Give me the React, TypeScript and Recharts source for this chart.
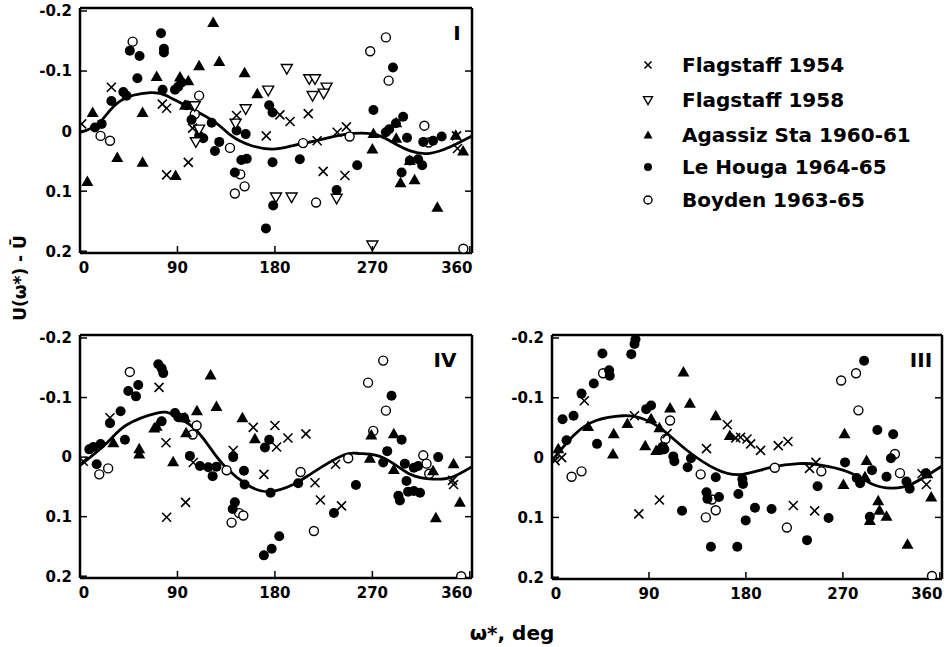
import React from 'react';
import { ComposedChart, Scatter, Line, XAxis, YAxis } from 'recharts';

type Pt = [number, number];

const xTicks = [0, 90, 180, 270, 360];
const yTicks = [-0.2, -0.1, 0, 0.1, 0.2];
const xInner = [90, 180, 270];
const yInner = [-0.1, 0, 0.1];

const seriesNames = ['Flagstaff 1954', 'Flagstaff 1958', 'Agassiz Sta 1960-61', 'Le Houga 1964-65', 'Boyden 1963-65'];

// panel I
const p1Flag54: Pt[] = [[1.5,-0.012],[29,-0.073],[76,-0.045],[80,-0.038],[100,0.052],[80,0.073],[104,-0.005],[144.6,-0.026],[172,0.008],[184.6,-0.027],[194,-0.016],[210.8,-0.029],[219,0.016],[224.6,0.067],[244.6,0.074],[237.5,0.002],[246,-0.007],[347.7,0.008],[348.6,0.029]];
const p1Flag58: Pt[] = [[106,-0.042],[110,-0.003],[107,0.018],[143.7,-0.013],[153,-0.037],[173.8,-0.068],[191,-0.104],[211.7,-0.087],[217,-0.087],[227.7,-0.073],[214.8,-0.059],[225,-0.063],[181,0.11],[195.4,0.11],[237,0.112],[270,0.19]];
const p1Agassiz: Pt[] = [[11.7,-0.031],[6.8,0.084],[34.4,0.044],[57.8,-0.031],[57.8,0.052],[70.8,-0.091],[88.3,0.074],[92.3,-0.09],[100,-0.084],[97,-0.043],[110,-0.109],[123,-0.181],[128.6,-0.116],[152,-0.097],[163.7,-0.062],[271,0.004],[270,0.03],[292,-0.014],[292,0.012],[296,0.086],[309,0.081],[304.6,0.049],[330,0.127],[347,0.007],[353.8,0.033]];
const p1Houga: Pt[] = [[13.8,-0.006],[20,-0.012],[29,-0.05],[40,-0.065],[43,-0.059],[46,-0.134],[55,-0.125],[53,-0.088],[74.8,-0.163],[77.5,-0.137],[77.5,-0.131],[76.3,-0.069],[87.7,-0.069],[90.7,-0.074],[93.8,-0.081],[98.5,-0.043],[103,-0.019],[110,0.008],[113.8,0.012],[121.6,-0.014],[128.6,0.018],[124.6,0.033],[144.6,-0.001],[153,0.005],[149,0.048],[154,0.046],[143,0.069],[174.7,-0.043],[177.8,-0.031],[177.8,0.052],[203,0.047],[178.4,0.124],[171.7,0.162],[237,0.098],[256,0.057],[271,-0.035],[289,-0.106],[282.5,0.002],[285.5,-0.003],[291.7,-0.013],[298.4,-0.024],[302,0.011],[304.6,0.049],[312.3,0.047],[316,0.057],[297,0.069],[317,0.018],[326,0.016],[334,0.009]];
const p1Boyden: Pt[] = [[48.6,-0.149],[19,0.008],[27.7,0.016],[110,-0.059],[106,-0.028],[138.5,0.028],[143,0.104],[148,0.072],[152,0.092],[206,0.02],[218,0.119],[249,0.009],[268,-0.133],[282.5,-0.156],[285,-0.084],[318,-0.009],[322,0.019],[354,0.196]];
const p1Curve: Pt[] = [[0,0.002],[18,-0.014],[37,-0.05],[65,-0.064],[80,-0.059],[98,-0.042],[123,-0.017],[140,0.008],[158,0.024],[178,0.03],[197,0.024],[218,0.016],[246,0.005],[271,0.005],[286,0.016],[305,0.033],[323,0.037],[341,0.027],[362,0.008]];

// panel IV
const p4Flag54: Pt[] = [[3,0.007],[27.7,-0.066],[73,-0.117],[79.4,-0.024],[80,0.101],[97.5,0.076],[104.6,0.009],[141.5,-0.011],[160,-0.05],[169.8,0.029],[180,-0.053],[181.5,-0.017],[192,-0.032],[208.6,-0.039],[217,0.043],[222,0.072],[241.5,0.082],[236,0.012],[344,0.039],[345,0.046]];
const p4Agassiz: Pt[] = [[30.8,-0.024],[54.7,-0.014],[54.7,-0.005],[68.6,-0.049],[70.8,-0.052],[86,0.008],[97,-0.066],[98,-0.041],[108,-0.078],[120.6,-0.138],[126,-0.085],[150,-0.066],[161.5,-0.031],[269,-0.037],[267.7,0.002],[289.8,-0.039],[289.8,0.021],[326,0.023],[328.6,0.102],[345,0.011],[350.8,0.076]];
const p4Houga: Pt[] = [[8.6,-0.013],[12.3,-0.017],[19,-0.022],[15.4,0.012],[27.7,-0.057],[37.5,-0.077],[41.5,-0.029],[44.6,-0.111],[51.7,-0.102],[53.8,-0.121],[72.3,-0.156],[75.4,-0.149],[76.9,-0.141],[75.4,-0.06],[87.7,-0.074],[90.7,-0.067],[96,-0.066],[101.5,-0.002],[110.8,0.015],[118.5,0.017],[122.5,0.032],[126,0.016],[141.5,0],[141,0.087],[143,0.076],[151.4,0.023],[152,0.046],[170.8,-0.016],[174.7,-0.029],[176,0.06],[169.8,0.165],[177,0.154],[184,0.133],[201.5,0.044],[254.8,0.047],[234.5,0.094],[287.7,-0.103],[283.7,-0.01],[280,0.009],[297,-0.029],[300,0.011],[301.5,0.04],[294,0.065],[295.4,0.073],[303,0.058],[308.3,0.057],[314,0.06],[308.3,0.018],[312.3,0.015],[330.8,0]];
const p4Boyden: Pt[] = [[17.8,0.029],[26,0.019],[46,-0.143],[107.7,-0.053],[104,-0.038],[135.4,0.022],[140,0.11],[147,0.094],[150.8,0.098],[203.7,0.025],[216,0.124],[247.7,0.002],[266,-0.125],[280,-0.162],[282.5,-0.078],[270.8,-0.044],[317,-0.003],[320,0.011],[322.5,0.028],[352,0.2]];
const p4Curve: Pt[] = [[0,0.014],[25,-0.024],[43,-0.054],[71,-0.074],[86,-0.071],[105,-0.049],[120,-0.016],[135,0.018],[154,0.046],[174,0.058],[197,0.046],[215,0.026],[243,-0.003],[258,-0.006],[280,0.001],[305,0.029],[326,0.037],[343,0.034],[362,0.016]];

// panel III
const p3Flag54: Pt[] = [[2.8,0.005],[9,0],[30,-0.095],[76.6,-0.07],[80.6,0.094],[99.7,0.071],[106.8,-0.04],[143.4,-0.015],[162.8,-0.055],[170.5,-0.033],[175,-0.034],[181,-0.031],[184.4,-0.023],[193.6,-0.012],[210,-0.02],[219,-0.027],[224,0.08],[243.8,0.089],[239,0.018],[245,0.008],[347.5,0.045],[343.5,0.027]];
const p3Agassiz: Pt[] = [[5.8,-0.015],[33.5,-0.052],[56.6,-0.006],[57.3,-0.04],[70,-0.057],[86.5,-0.02],[92,-0.065],[96.7,-0.012],[99,-0.013],[99.7,-0.05],[109.6,-0.083],[122,-0.143],[128,-0.091],[152,-0.07],[165,-0.037],[271.5,-0.04],[270.5,0.045],[292,0.005],[290.5,0.032],[302.8,0.072],[295,0.105],[304,0.088],[310.5,0.098],[330,0.145],[348.4,0.027],[352,0.066]];
const p3Houga: Pt[] = [[9.8,-0.064],[20,-0.07],[13.5,-0.029],[27.4,-0.107],[38.8,-0.124],[41.8,-0.023],[46.8,-0.174],[53,-0.146],[53.6,-0.137],[73.6,-0.173],[76.6,-0.19],[77.5,-0.198],[87.4,-0.081],[92,-0.087],[102.8,-0.018],[104.3,-0.014],[112.6,-0.002],[113.6,0.006],[125.9,0.016],[129,0.001],[120.7,0.089],[143.4,0.058],[144.3,0.069],[147.5,0.149],[152,0.033],[155,0.066],[172,0.149],[173,0.061],[176.7,0.036],[177.3,0.044],[179.8,0.105],[188.4,0.084],[203.8,0.086],[236.7,0.138],[246.5,0.048],[256.7,0.101],[272,0.008],[289.7,-0.162],[302,-0.046],[316.7,-0.039],[297,0.021],[282.8,0.034],[286,0.043],[295,0.099],[310.5,0.032],[314.6,0.001],[329,0.04],[332,0.052],[347,0.026]];
const p3Boyden: Pt[] = [[18.2,0.032],[27.4,0.023],[47.4,-0.141],[109.6,-0.062],[105.3,-0.031],[138,0.028],[142.8,0.1],[148.4,0.07],[152,0.088],[206.8,0.017],[218,0.117],[250,0.023],[268.4,-0.129],[282.2,-0.141],[284.4,-0.079],[318.3,-0.006],[323,0.026],[352.7,0.198]];
const p3Curve: Pt[] = [[0,0.005],[20,-0.037],[41,-0.062],[66,-0.07],[81,-0.067],[100,-0.05],[124,-0.014],[153,0.02],[177,0.028],[204,0.016],[229,0.01],[248,0.012],[275,0.024],[297,0.044],[315,0.051],[334,0.044],[362,0.014]];

const toXY = (pts: Pt[]) => pts.map(([x, y]) => ({ x, y }));

const FONT = '"DejaVu Sans", sans-serif';
const labelStyle = { fontFamily: FONT, fontWeight: 700, fontSize: 15, fill: '#000' };
const frame = { stroke: '#000', strokeWidth: 2.5 };

// markers
const Cross = ({ cx, cy, s = 4.5 }: any) => (
  <g stroke="#000" strokeWidth={1.6}>
    <line x1={cx - s} y1={cy - s} x2={cx + s} y2={cy + s} />
    <line x1={cx - s} y1={cy + s} x2={cx + s} y2={cy - s} />
  </g>
);
const TriDown = ({ cx, cy, s = 5.5 }: any) => (
  <polygon points={`${cx - s},${cy - s * 0.75} ${cx + s},${cy - s * 0.75} ${cx},${cy + s}`} fill="#fff" stroke="#000" strokeWidth={1.4} />
);
const TriUp = ({ cx, cy, s = 6 }: any) => (
  <polygon points={`${cx},${cy - s} ${cx + s},${cy + s * 0.75} ${cx - s},${cy + s * 0.75}`} fill="#000" />
);
const Dot = ({ cx, cy, r = 5 }: any) => <circle cx={cx} cy={cy} r={r} fill="#000" />;
const Ring = ({ cx, cy, r = 4.5 }: any) => <circle cx={cx} cy={cy} r={r} fill="#fff" stroke="#000" strokeWidth={1.4} />;

// ticks: labels outside, tick marks inward; end labels nudged inside like the original
const BottomTick = ({ x, y, payload }: any) => {
  const shift = payload.value === 360 ? -13 : payload.value === 0 ? 4 : 0;
  return (
    <g>
      <line x1={x} x2={x} y1={y - 9} y2={y - 16} stroke="#000" strokeWidth={1.5} />
      <text x={x + shift} y={y} dy="0.71em" textAnchor="middle" style={labelStyle}>{payload.value}</text>
    </g>
  );
};
const LeftTick = ({ x, y, payload }: any) => (
  <g>
    <line x1={x + 8} x2={x + 15} y1={y} y2={y} stroke="#000" strokeWidth={1.5} />
    <text x={x} y={y} dy="0.36em" textAnchor="end" style={labelStyle}>{payload.value === 0 ? '0' : String(payload.value)}</text>
  </g>
);
const TopTick = ({ x, y }: any) => <line x1={x} x2={x} y1={y} y2={y + 7} stroke="#000" strokeWidth={1.5} />;
const RightTick = ({ x, y }: any) => <line x1={x} x2={x - 7} y1={y} y2={y} stroke="#000" strokeWidth={1.5} />;

type PanelProps = {
  left: number; top: number; width: number; height: number;
  flag54: Pt[]; flag58?: Pt[]; agassiz: Pt[]; houga: Pt[]; boyden: Pt[]; curve: Pt[];
};

const Panel: React.FC<PanelProps> = ({ left, top, width, height, flag54, flag58, agassiz, houga, boyden, curve }) => (
  <div style={{ position: 'absolute', left, top }}>
    <ComposedChart width={width} height={height} margin={{ top: 3, right: 0, bottom: 0, left: 0 }}>
      <XAxis xAxisId="b" dataKey="x" type="number" domain={[0, 362]} ticks={xTicks} allowDataOverflow height={30}
        tickSize={0} tickMargin={9} tick={BottomTick} axisLine={frame} tickLine={false} />
      <XAxis xAxisId="t" orientation="top" type="number" domain={[0, 362]} ticks={xInner} allowDataOverflow height={5}
        tickSize={0} tickMargin={0} tick={TopTick} axisLine={frame} tickLine={false} />
      <YAxis yAxisId="l" dataKey="y" type="number" domain={[-0.205, 0.203]} reversed ticks={yTicks} allowDataOverflow width={80}
        tickSize={0} tickMargin={8} tick={LeftTick} axisLine={frame} tickLine={false} />
      <YAxis yAxisId="r" orientation="right" type="number" domain={[-0.205, 0.203]} reversed ticks={yInner} allowDataOverflow width={10}
        tickSize={0} tickMargin={0} tick={RightTick} axisLine={frame} tickLine={false} />
      <Line xAxisId="b" yAxisId="l" data={toXY(curve)} dataKey="y" type="natural" stroke="#000" strokeWidth={2.8} dot={false} isAnimationActive={false} />
      <Scatter xAxisId="b" yAxisId="l" data={toXY(boyden)} shape={Ring} isAnimationActive={false} />
      <Scatter xAxisId="b" yAxisId="l" data={toXY(agassiz)} shape={TriUp} isAnimationActive={false} />
      <Scatter xAxisId="b" yAxisId="l" data={toXY(houga)} shape={Dot} isAnimationActive={false} />
      {flag58 && <Scatter xAxisId="b" yAxisId="l" data={toXY(flag58)} shape={TriDown} isAnimationActive={false} />}
      <Scatter xAxisId="b" yAxisId="l" data={toXY(flag54)} shape={Cross} isAnimationActive={false} />
    </ComposedChart>
  </div>
);

const legendMarkers = [Cross, TriDown, TriUp, Dot, Ring];
const legendRows = [65, 100, 135, 167, 200];

export default function App() {
  const big = { fontFamily: FONT, fontWeight: 700, fontSize: 20, fill: '#000' };
  return (
    <div style={{ position: 'absolute', left: 0, top: 0, width: 949, height: 647, background: '#fff' }}>
      <Panel left={0} top={0} width={482} height={283}
        flag54={p1Flag54} flag58={p1Flag58} agassiz={p1Agassiz} houga={p1Houga} boyden={p1Boyden} curve={p1Curve} />
      <Panel left={0} top={327} width={482} height={281}
        flag54={p4Flag54} agassiz={p4Agassiz} houga={p4Houga} boyden={p4Boyden} curve={p4Curve} />
      <Panel left={472} top={327} width={480} height={282}
        flag54={p3Flag54} agassiz={p3Agassiz} houga={p3Houga} boyden={p3Boyden} curve={p3Curve} />
      <svg width={949} height={647} style={{ position: 'absolute', left: 0, top: 0, pointerEvents: 'none' }}>
        <text x={457} y={33} dy="0.36em" textAnchor="middle" style={big}>I</text>
        <text x={445} y={360} dy="0.36em" textAnchor="middle" style={big}>IV</text>
        <text x={921} y={360} dy="0.36em" textAnchor="middle" style={big}>III</text>
        <text transform="translate(20,278) rotate(-90)" textAnchor="middle" dy="0.36em" style={{ ...big, fontSize: 17 }}>U(ω*) - Ū</text>
        <text x={512} y={633} dy="0.36em" textAnchor="middle" style={big}>ω*, deg</text>
        {seriesNames.map((name, i) => {
          const M = legendMarkers[i];
          const cy = legendRows[i];
          return (
            <g key={name}>
              <M cx={648} cy={cy} s={i === 0 ? 3.5 : 4.5} r={4} />
              <text x={682} y={cy} dy="0.36em" style={big}>{name}</text>
            </g>
          );
        })}
      </svg>
    </div>
  );
}
